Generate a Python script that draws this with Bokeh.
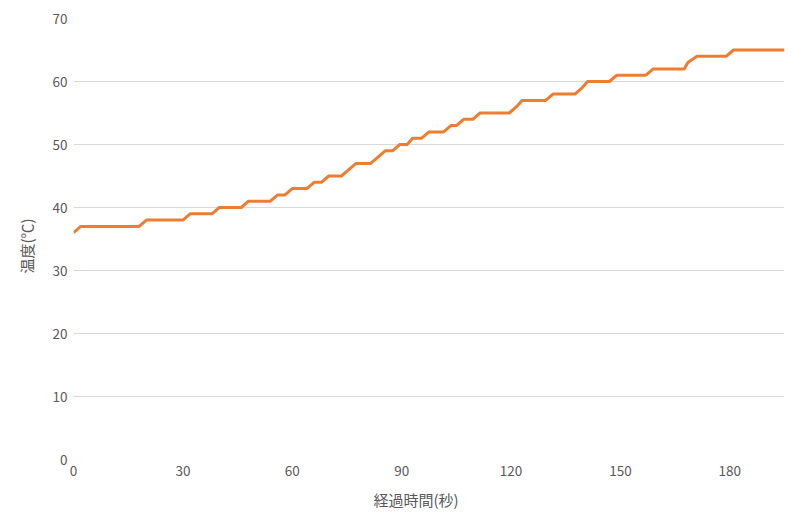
from bokeh.plotting import figure
from bokeh.models import Range1d, FixedTicker, Title
from bokeh.embed import file_html
from bokeh.resources import INLINE

# 経過時間(秒) and 温度(℃) at the turning points of the curve
times = [0, 2, 18, 20, 30, 32, 38, 40, 46, 48,
         54, 56, 58, 60, 64, 66, 68, 70, 73.5, 75.5,
         77.5, 81.5, 83.5, 85.5, 87.5, 89.5, 91.5, 93, 95.5, 97.5,
         101.5, 103.5, 105, 107, 109.5, 111.5, 119.5, 121.5, 123, 129.5,
         131.5, 137.5, 139.5, 141, 147, 149, 157, 159, 167.5, 168.5,
         171, 179, 181, 195]
temps = [36, 37, 37, 38, 38, 39, 39, 40, 40, 41,
         41, 42, 42, 43, 43, 44, 44, 45, 45, 46,
         47, 47, 48, 49, 49, 50, 50, 51, 51, 52,
         52, 53, 53, 54, 54, 55, 55, 56, 57, 57,
         58, 58, 59, 60, 60, 61, 61, 62, 62, 63,
         64, 64, 65, 65]

x_ticks = [0, 30, 60, 90, 120, 150, 180]
y_ticks = [0, 10, 20, 30, 40, 50, 60, 70]
x_title = "経過時間(秒)"
y_title = "温度(℃)"

FONT = "Noto Sans CJK JP"
GRAY = "#595959"

p = figure(width=792, height=518, output_backend="svg", toolbar_location=None,
           title=None, x_range=Range1d(0, 195), y_range=Range1d(0, 70),
           min_border_left=73, min_border_right=8, min_border_top=18,
           min_border_bottom=59)
p.outline_line_color = None
p.background_fill_color = "white"
p.border_fill_color = "white"

p.line(times, temps, line_color="#ED7D31", line_width=3, line_join="round")

for ax in (p.xaxis[0], p.yaxis[0]):
    ax.axis_line_color = None
    ax.major_tick_line_color = None
    ax.minor_tick_line_color = None
    ax.major_label_text_font = FONT
    ax.major_label_text_font_size = "13.5px"
    ax.major_label_text_color = GRAY

p.xaxis[0].ticker = FixedTicker(ticks=x_ticks)
p.yaxis[0].ticker = FixedTicker(ticks=y_ticks)
p.xaxis[0].major_label_standoff = 0
p.yaxis[0].major_label_standoff = 0

p.xgrid.grid_line_color = None
p.ygrid.ticker = FixedTicker(ticks=y_ticks)
p.ygrid.grid_line_color = "#d9d9d9"
p.ygrid.grid_line_width = 1

xt = Title(text=x_title, align="left", offset=300, text_font=FONT,
           text_font_size="15px", text_font_style="normal",
           text_color=GRAY, standoff=17)
p.add_layout(xt, "below")
yt = Title(text=y_title, align="left", offset=186, text_font=FONT,
           text_font_size="15px", text_font_style="normal",
           text_color=GRAY, standoff=26)
p.add_layout(yt, "left")

open("out.html", "w").write(file_html(p, INLINE))
